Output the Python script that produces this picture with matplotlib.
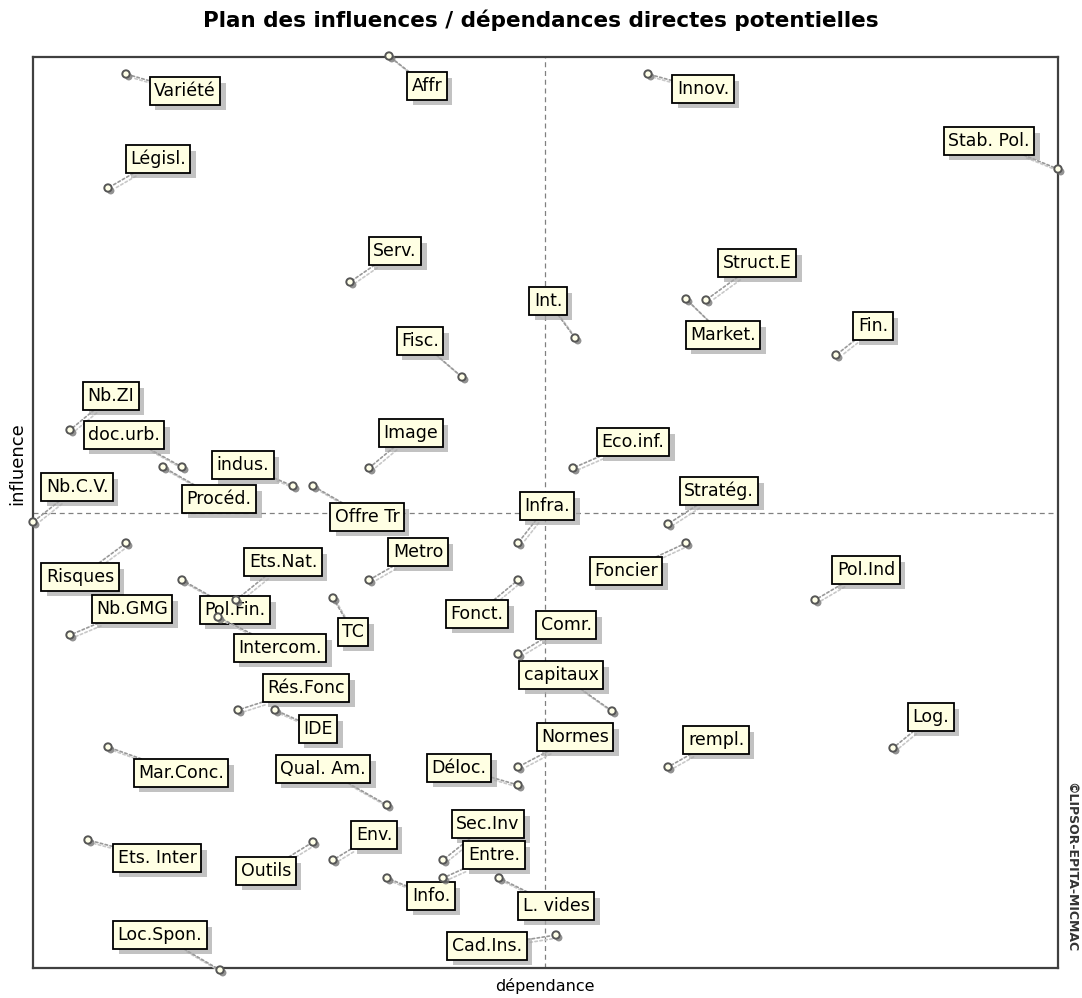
import numpy as np
import matplotlib
matplotlib.use("Agg")
import matplotlib.pyplot as plt
import matplotlib.patheffects as pe

# variable names (short labels as in the MICMAC output)
labels = ['Variété', 'Affr', 'Innov.', 'Stab. Pol.', 'Législ.', 'Serv.', 'Struct.E',
          'Market.', 'Int.', 'Fin.', 'Fisc.', 'Nb.ZI', 'doc.urb.', 'Procéd.', 'indus.',
          'Offre Tr', 'Nb.C.V.', 'Image', 'Eco.inf.', 'Stratég.', 'Infra.', 'Foncier',
          'Pol.Ind', 'Risques', 'Ets.Nat.', 'Pol.Fin.', 'Nb.GMG', 'Intercom.', 'Metro',
          'TC', 'Fonct.', 'Comr.', 'capitaux', 'Rés.Fonc', 'IDE', 'Normes', 'Déloc.',
          'rempl.', 'Log.', 'Mar.Conc.', 'Qual. Am.', 'Env.', 'Outils', 'Ets. Inter',
          'Sec.Inv', 'Entre.', 'Info.', 'L. vides', 'Cad.Ins.', 'Loc.Spon.']

dependance = [93, 356, 615, 1025, 75, 317, 673, 653, 542, 803, 429, 37, 149, 130, 260,
              280, 0, 336, 540, 635, 485, 653, 782, 93, 203, 149, 37, 185, 336,
              300, 485, 485, 579, 205, 242, 485, 485, 635, 860, 75, 354, 300, 280, 55,
              410, 410, 354, 466, 523, 187]
influence = [894, 912, 894, 799, 780, 686, 668, 669, 630, 613, 591, 538, 501, 501, 482,
             482, 446, 500, 500, 444, 425, 425, 368, 425, 368, 388, 333, 351, 388,
             370, 388, 314, 257, 258, 258, 201, 183, 201, 220, 221, 163, 108, 126, 128,
             108, 90, 90, 90, 33, -2]

# mean lines
mean_dep = 512
mean_inf = 455

# label placement (pixel offsets from the point)
label_offsets = [(59, -17), (38, -30), (55, -15), (-69, 28), (50, 29), (45, 31), (51, 37),
                 (37, -36), (-27, 37), (37, 29), (-42, 36), (41, 34), (-58, 32), (56, -32),
                 (-50, 21), (54, -31), (44, 35), (42, 35), (60, 26), (51, 33), (29, 37),
                 (-60, -28), (51, 30), (-46, -34), (47, 38), (53, -30), (62, 26), (62, -31),
                 (49, 28), (20, -34), (-41, -34), (48, 29), (-51, 36), (68, 22), (43, -19),
                 (57, 30), (-59, 17), (48, 27), (38, 31), (73, -26), (-64, 36), (41, 25),
                 (-47, -29), (69, -18), (45, 36), (51, 23), (44, -18), (57, -28), (-69, -11),
                 (-60, 35)]

W, H = 1082, 998
fig = plt.figure(figsize=(W / 100, H / 100), dpi=100)
ax = fig.add_axes([33 / W, 1 - 968 / H, (1058 - 33) / W, (968 - 57) / H])
ax.set_xlim(0, 1025)
ax.set_ylim(0, 911)
ax.set_xticks([])
ax.set_yticks([])
for s in ax.spines.values():
    s.set_color('#404040')
    s.set_linewidth(1.6)

ax.axvline(mean_dep, color='#808080', lw=0.9, ls=(0, (4, 3)), zorder=1)
ax.axhline(mean_inf, color='#808080', lw=0.9, ls=(0, (4, 3)), zorder=1)

shadow_box = [pe.SimplePatchShadow(offset=(4, -4), shadow_rgbFace='#a8a8a8', alpha=0.7), pe.Normal()]
shadow_pt = [pe.SimplePatchShadow(offset=(2, -2), shadow_rgbFace='#777777', alpha=0.8), pe.Normal()]
shadow_ln = [pe.SimpleLineShadow(offset=(2, -2), shadow_color='#c8c8c8', alpha=1.0), pe.Normal()]

for lab, x, y, (dx, dy) in zip(labels, dependance, influence, label_offsets):
    ann = ax.annotate(lab, xy=(x, y), xytext=(dx, dy), textcoords='offset pixels',
                      ha='center', va='center', fontsize=12.5, family='DejaVu Sans',
                      bbox=dict(boxstyle='square,pad=0.26', fc='#FFFFE3', ec='black', lw=1.3),
                      arrowprops=dict(arrowstyle='-', color='#999999', lw=1.2, ls=(0, (1.5, 1.5)),
                                      shrinkA=0, shrinkB=3, path_effects=shadow_ln),
                      zorder=5, annotation_clip=False)
    ann.get_bbox_patch().set_path_effects(shadow_box)

ax.scatter(dependance, influence, s=28, facecolor='#FFFFE8', edgecolor='#555555',
           linewidth=1.4, zorder=6, clip_on=False, path_effects=shadow_pt)

fig.text(0.5, 1 - 20 / H, 'Plan des influences / dépendances directes potentielles',
         ha='center', va='center', fontsize=15.5, fontweight='bold', family='DejaVu Sans')
fig.text(545 / W, 1 - 986 / H, 'dépendance', ha='center', va='center', fontsize=11.5)
fig.text(17 / W, 1 - 464 / H, 'influence', ha='center', va='center', fontsize=13, rotation=90)
fig.text(1071 / W, 1 - 867 / H, '©LIPSOR-EPITA-MICMAC', ha='center', va='center',
         fontsize=9, fontweight='bold', rotation=-90, color='#333333')

fig.savefig('out.png', dpi=100)
